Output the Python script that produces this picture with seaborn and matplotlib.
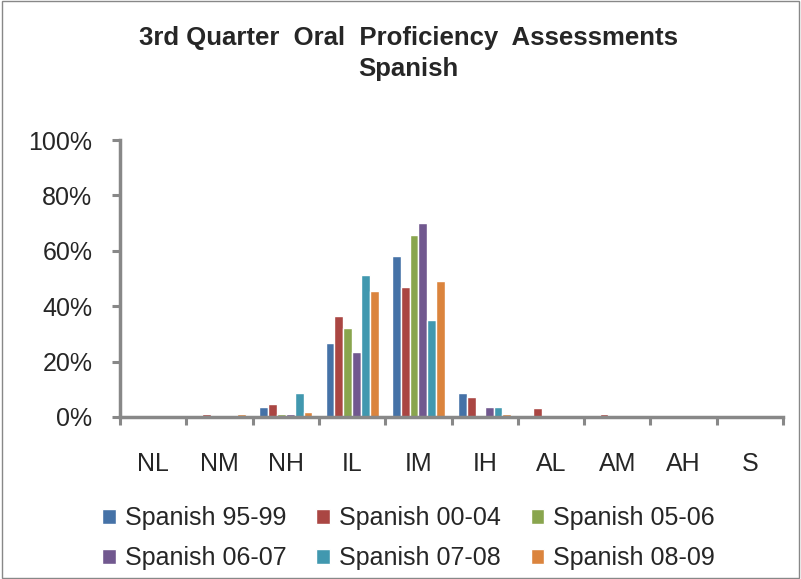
import numpy as np
import pandas as pd
import matplotlib
matplotlib.use('Agg')
import matplotlib.pyplot as plt
import seaborn as sns
from matplotlib.patches import Rectangle

levels = ['NL', 'NM', 'NH', 'IL', 'IM', 'IH', 'AL', 'AM', 'AH', 'S']
series = ['Spanish 95-99', 'Spanish 00-04', 'Spanish 05-06',
          'Spanish 06-07', 'Spanish 07-08', 'Spanish 08-09']

# percent of students at each level
sp_95_99 = [0, 0, 3.4, 26.6, 58.1, 8.5, 0, 0, 0, 0]
sp_00_04 = [0, 1.1, 4.8, 36.5, 46.8, 7.1, 3.2, 1.0, 0, 0]
sp_05_06 = [0, 0, 1.0, 32.0, 65.7, 0, 0, 0, 0, 0]
sp_06_07 = [0, 0, 1.0, 23.6, 70.1, 3.4, 0, 0, 0, 0]
sp_07_08 = [0, 0, 8.5, 51.4, 34.9, 3.4, 0, 0, 0, 0]
sp_08_09 = [0, 1.1, 1.8, 45.5, 49.1, 1.0, 0, 0, 0, 0]

colors = ['#4572A7', '#AA4643', '#89A54E', '#71588F', '#4198AF', '#DB843D']

rows = []
for name, vals in zip(series, [sp_95_99, sp_00_04, sp_05_06, sp_06_07, sp_07_08, sp_08_09]):
    for lvl, v in zip(levels, vals):
        rows.append({'level': lvl, 'series': name, 'pct': v})
df = pd.DataFrame(rows)

sns.set_style('white')
plt.rcParams['font.family'] = ['Liberation Sans', 'DejaVu Sans']

fig = plt.figure(figsize=(8.01, 5.79), dpi=100)
ax = fig.add_axes([0.15, 0.28, 0.8275, 0.478])

sns.barplot(data=df, x='level', y='pct', hue='series', order=levels,
            hue_order=series, palette=colors, width=0.8, saturation=1,
            ax=ax, legend=True)

ax.set_ylim(0, 100)
ax.set_xlim(-0.5, 9.5)
ax.set_yticks([0, 20, 40, 60, 80, 100])
ax.set_yticklabels([f'{v}%' for v in [0, 20, 40, 60, 80, 100]], fontsize=18)
ax.set_xticks(np.arange(-0.5, 10, 1))
ax.set_xticklabels([])
ax.set_xticks(np.arange(10), minor=True)
ax.set_xticklabels(levels, minor=True, fontsize=18)
ax.tick_params(axis='x', which='major', bottom=True, direction='out', length=6,
               width=2.2, color='#888888')
ax.tick_params(axis='x', which='minor', bottom=True, length=0, pad=25)
ax.tick_params(axis='y', left=True, direction='out', length=6, width=2.2,
               color='#888888', pad=14)
ax.set_xlabel('')
ax.set_ylabel('')

for s in ['top', 'right']:
    ax.spines[s].set_visible(False)
for s in ['left', 'bottom']:
    ax.spines[s].set_color('#888888')
    ax.spines[s].set_linewidth(2.5)

fig.suptitle('3rd Quarter  Oral  Proficiency  Assessments\nSpanish',
             x=0.51, y=0.955, fontsize=18.5, fontweight='bold', linespacing=1.35)

# legend filled row by row like the original
handles, labels = ax.get_legend_handles_labels()
order = [0, 3, 1, 4, 2, 5]
ax.get_legend().remove()
fig.legend([handles[i] for i in order], [labels[i] for i in order],
           loc='center', bbox_to_anchor=(0.51, 0.0705), ncol=3, frameon=False,
           fontsize=18, handlelength=0.55, handleheight=0.55, handletextpad=0.35,
           columnspacing=1.2, labelspacing=0.65)

fig.patches.append(Rectangle((0.002, 0.002), 0.996, 0.996, transform=fig.transFigure,
                             fill=False, edgecolor='#888888', linewidth=1))

fig.savefig('out.png', dpi=100)
